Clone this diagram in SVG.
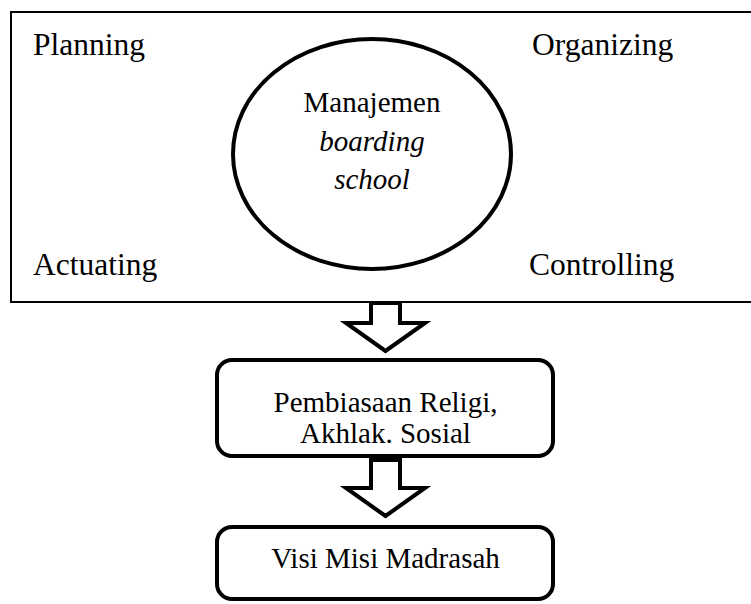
<svg xmlns="http://www.w3.org/2000/svg" width="751" height="604" viewBox="0 0 751 604">
<style>
  .t { font-family: "Liberation Serif", "Times New Roman", serif; fill: #000; }
  .corner { font-size: 31.5px; }
  .mid { font-size: 29px; text-anchor: middle; }
  .it { font-style: italic; }
  .thick { fill: #fff; stroke: #000; stroke-width: 4; stroke-linejoin: miter; }
</style>
<rect width="751" height="604" fill="#fff"/>
<g id="frame">
  <rect x="11" y="12" width="760" height="290" fill="#fff" stroke="#000" stroke-width="2"/>
  <text class="t corner" x="33" y="55">Planning</text>
  <text class="t corner" x="532" y="55">Organizing</text>
  <text class="t corner" x="33" y="275">Actuating</text>
  <text class="t corner" x="529" y="275">Controlling</text>
</g>
<g id="core">
  <ellipse cx="372" cy="154" rx="139" ry="115" class="thick"/>
  <text class="t mid" x="372" y="112">Manajemen</text>
  <text class="t mid it" x="372" y="151">boarding</text>
  <text class="t mid it" x="372" y="189">school</text>
</g>
<g id="connectors">
  <path class="thick" d="M371,303 H400 V323 H425 L385.5,351 L346,323 H371 Z"/>
  <path class="thick" d="M371,460 H400 V488 H425 L385.5,516 L346,488 H371 Z"/>
</g>
<g id="habit">
  <rect x="217" y="360" width="336" height="96" rx="15" class="thick"/>
  <text class="t mid" x="385.5" y="412">Pembiasaan Religi,</text>
  <text class="t mid" x="385.5" y="443">Akhlak. Sosial</text>
</g>
<g id="vision">
  <rect x="217" y="527" width="336" height="72" rx="15" class="thick"/>
  <text class="t mid" x="385.5" y="568">Visi Misi Madrasah</text>
</g>
</svg>
